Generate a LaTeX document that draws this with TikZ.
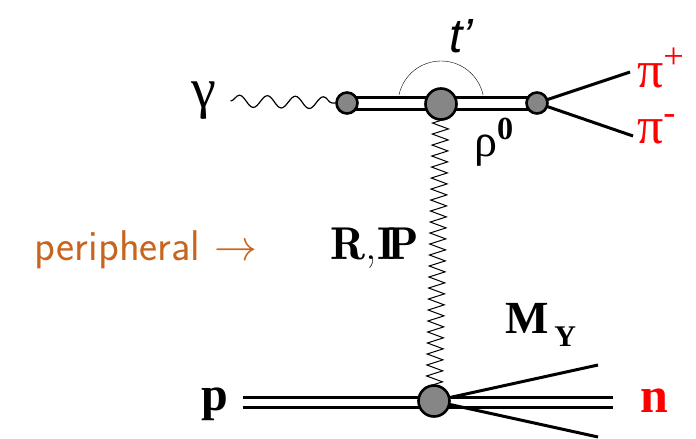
\RequirePackage{fix-cm}
\documentclass[tikz,border=0pt]{standalone}
\usepackage{fontspec}
\usepackage{tikz}
\usetikzlibrary{positioning, backgrounds, decorations.pathmorphing}
\newfontfamily\grkfont{Liberation Serif}
\newfontfamily\tfont{Liberation Sans}
\definecolor{periorange}{RGB}{200,100,30}

\begin{document}
\begin{tikzpicture}[
    x=1pt, y=-1pt,
    vertex/.style={draw, circle, fill=gray!95!white, line width=2.6pt, inner sep=0pt},
    smallvtx/.style={vertex, minimum size=21pt},
    bigvtx/.style={vertex, minimum size=31pt},
    dbl/.style={draw, line width=3pt, double=white, double distance=9pt},
    dblb/.style={draw, line width=3pt, double=white, double distance=7pt},
    leg/.style={line width=3pt},
    photon/.style={decorate, decoration={snake, segment length=28pt, amplitude=6pt}, line width=1.2pt},
    reggeon/.style={decorate, decoration={zigzag, segment length=11pt, amplitude=8pt}, line width=1pt},
    lbl/.style={inner sep=0pt}
]
    \useasboundingbox (0,0) rectangle (696,439);

    % vertices
    \node[smallvtx] (vl) at (347,103) {};
    \node[bigvtx] (vc) at (441,104) {};
    \node[smallvtx] (vr) at (537,103) {};
    \node[bigvtx] (vb) at (434,401) {};

    % labels
    \node[lbl] (gamma) at (204,101) {\fontsize{56}{56}\grkfont γ};
    \node[lbl] (tprime) at (461,36) {\fontsize{48}{48}\tfont\itshape t’};
    \node[lbl] (rho) at (494,142) {\fontsize{46}{46}\grkfont ρ\textsuperscript{\bfseries 0}};
    \node[lbl, anchor=west, text=red] (pip) at (637,68) {\fontsize{52}{52}\grkfont π\textsuperscript{+}};
    \node[lbl, anchor=west, text=red] (pim) at (637,129) {\fontsize{52}{52}\grkfont π\textsuperscript{-}};
    \node[lbl] (regge) at (375,248) {\fontsize{46}{46}\selectfont$\mathbf{R}$,$\mathbf{I\!P}$};
    \node[lbl, text=periorange] (peri) at (146,250) {\fontsize{43}{43}\sffamily peripheral $\rightarrow$};
    \node[lbl] (p) at (215,404) {\fontsize{48}{48}\grkfont\bfseries p};
    \node[lbl, text=red] (n) at (654,401) {\fontsize{50}{50}\grkfont\bfseries n};
    \node[lbl] (my) at (541,325) {\fontsize{46}{46}\grkfont\bfseries M\raisebox{-0.3em}{\fontsize{30}{30}\selectfont\,Y}};

    % free ends
    \coordinate (pipend) at (630,72);
    \coordinate (pimend) at (633,136);
    \coordinate (myup) at (598,365);
    \coordinate (mylow) at (598,437);
    \coordinate (pin) at (243,402);
    \coordinate (nout) at (613,402);

    \begin{scope}[on background layer]
        \draw[photon] (gamma.east) ++(14,0) -- (vl.west);
        \draw[dbl] (vl.center) -- (vr.center);
        \draw (vc) ++(192:43) arc[start angle=192, end angle=348, radius=43];
        \draw[reggeon] (vc.center) -- (vb.center);
        \draw[leg] (vr.center) -- (pipend);
        \draw[leg] (vr.center) -- (pimend);
        \draw[dblb] (pin) -- (nout);
        \draw[leg] (vb.center) -- (myup);
        \draw[leg] (vb.center) -- (mylow);
    \end{scope}
\end{tikzpicture}
\end{document}
